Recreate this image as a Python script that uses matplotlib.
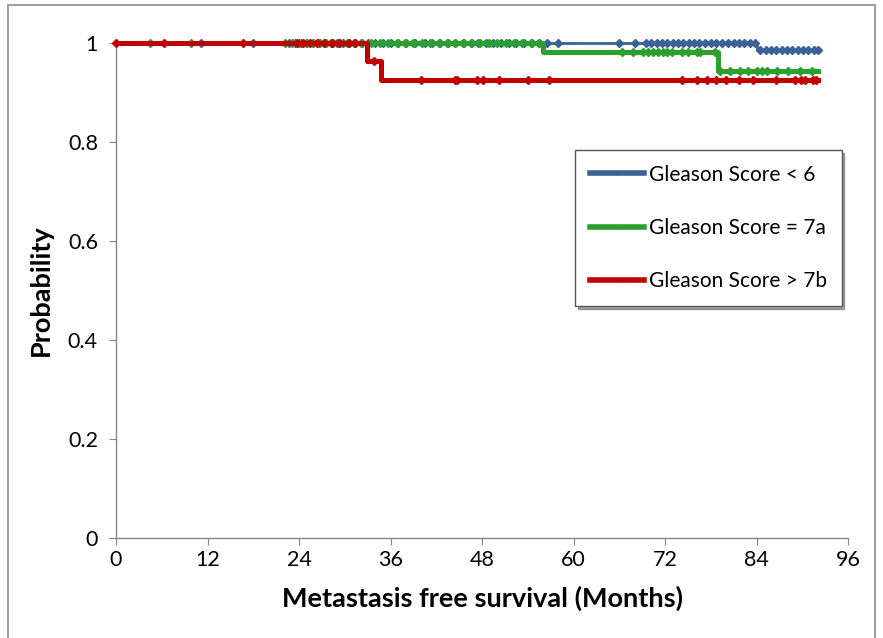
import numpy as np
import matplotlib
matplotlib.use("Agg")
import matplotlib.pyplot as plt
from matplotlib.patches import Rectangle

plt.rcParams['font.family'] = ['Lato', 'DejaVu Sans']

# Kaplan-Meier step data (time in months, survival probability)
blue_times = [0, 84.0, 92.0]
blue_surv = [1.0, 0.986, 0.986]
green_times = [0, 56.0, 78.9, 92.0]
green_surv = [1.0, 0.981, 0.943, 0.943]
red_times = [0, 32.9, 34.8, 92.0]
red_surv = [1.0, 0.963, 0.926, 0.926]

# censoring times
blue_cens = [11.1, 18, 22.7, 23.5, 24.3, 25, 25.8, 26.6, 27.4, 28.2, 29, 29.8,
             30.6, 31.4, 32.2, 33, 34, 35, 36, 37, 38, 39.2, 40.5, 41.5, 42.5,
             43.5, 44.5, 45.5, 46.5, 47.5, 48.5, 49.5, 50.5, 51.5, 52.5, 53.5,
             54.5, 55.5, 56.5, 58, 66, 68, 69.5, 70.2, 70.9, 71.6, 72.3, 73,
             73.7, 74.4, 75.1, 75.8, 76.5, 77.3, 78, 78.7, 79.5, 80.3, 81, 81.7,
             82.4, 83.1, 83.8, 84.5, 85.2, 85.9, 86.6, 87.3, 88, 88.7, 89.4,
             90.1, 90.8, 91.5, 92]
green_cens = [4.5, 9.8, 22.2, 23.1, 24, 24.9, 25.8, 26.7, 27.6, 28.5, 29.4,
              30.3, 31.2, 32.1, 33.5, 34.6, 35.7, 36.8, 37.9, 39, 40.1, 41.2,
              42.3, 43.4, 44.5, 45.6, 46.7, 47.8, 48.9, 50, 51.1, 52.2, 53.3,
              54.4, 55.5, 66.3, 67.8, 69.1, 69.8, 70.4, 71.1, 71.7, 72.3, 72.9,
              74.2, 75, 76.2, 76.6, 78.5, 79.2, 80.5, 81.8, 82.9, 84.1, 84.7,
              85.4, 86.7, 88.1, 89.7, 91.3]
red_cens = [0, 6.3, 16.6, 23.7, 24.5, 25.4, 26.4, 27.3, 28.3, 29.3, 30.6, 31.3,
            33.8, 40, 44.5, 44.7, 47.3, 48.1, 50.2, 54, 56.8, 74.2, 76.2, 77.5,
            78.7, 80, 81.7, 83.5, 86.6, 89, 89.9, 90.4, 91.4, 91.8]

labels = ["Gleason Score < 6", "Gleason Score = 7a", "Gleason Score > 7b"]
colors = ["#3a6296", "#2ca02c", "#c00000"]
x_ticks = [0, 12, 24, 36, 48, 60, 72, 84, 96]
y_ticks = [0, 0.2, 0.4, 0.6, 0.8, 1]
y_ticklabels = ["0", "0.2", "0.4", "0.6", "0.8", "1"]

fig = plt.figure(figsize=(8.83, 6.38), dpi=100)
ax = fig.add_axes([116/883, 1-538/638, 732/883, 495/638])

series = [(blue_times, blue_surv, blue_cens, 2.0),
          (green_times, green_surv, green_cens, 3.6),
          (red_times, red_surv, red_cens, 3.6)]

for (t, s, c, lw), col, lab in zip(series, colors, labels):
    ax.step(t, s, where='post', color=col, lw=lw, clip_on=False, zorder=3)
    t_arr = np.array(t)
    s_arr = np.array(s)
    idx = np.searchsorted(t_arr, np.array(c), side='right') - 1
    ax.plot(c, s_arr[idx], linestyle='none', marker='D', ms=4.0,
            color=col, clip_on=False, zorder=3)
    ax.plot([], [], color=col, lw=4, marker='|', ms=3, label=lab)

ax.set_xlim(0, 96)
ax.set_ylim(0, 1)
ax.set_xticks(x_ticks)
ax.set_xticklabels([str(v) for v in x_ticks])
ax.set_yticks(y_ticks)
ax.set_yticklabels(y_ticklabels)
for sp in ['top', 'right']:
    ax.spines[sp].set_visible(False)
for sp in ['left', 'bottom']:
    ax.spines[sp].set_color('#868686')
    ax.spines[sp].set_linewidth(1.0)
ax.tick_params(axis='both', direction='out', length=5, color='#868686',
               labelsize=15.5)
ax.tick_params(axis='y', pad=8)
ax.tick_params(axis='x', pad=4)

ax.set_xlabel("Metastasis free survival (Months)", fontsize=19.5,
              fontweight='bold', labelpad=11)
ax.set_ylabel("Probability", fontsize=19.5, fontweight='bold', labelpad=11)

leg = ax.legend(loc='upper left', bbox_to_anchor=(0.627, 0.784),
                fontsize=15, frameon=True, shadow=True, fancybox=False,
                labelspacing=1.6, handlelength=2.6, handletextpad=0.25,
                borderpad=0.7, borderaxespad=0)
leg.get_frame().set_edgecolor('#555555')
leg.get_frame().set_linewidth(1.0)

fig.patches.append(Rectangle((8/883, -0.01), 867/883, 1 - 5/638 + 0.01,
                             transform=fig.transFigure, fill=False,
                             edgecolor='#8c8c8c', lw=1.2))

fig.savefig("out.png", dpi=100)
